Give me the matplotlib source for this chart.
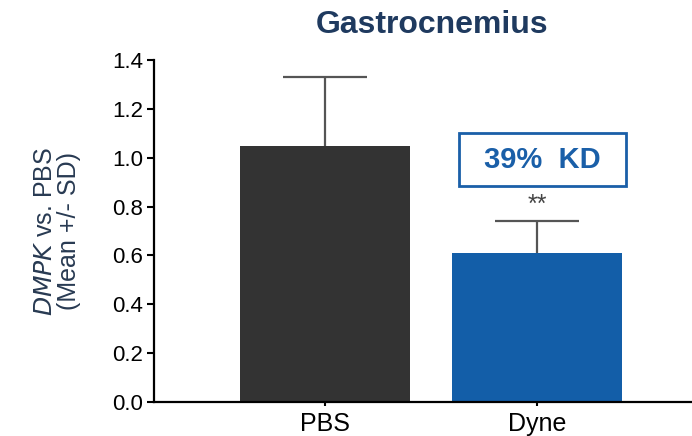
import matplotlib.pyplot as plt
from matplotlib.patches import Rectangle
import numpy as np

plt.rcParams['font.family'] = ['Liberation Sans', 'DejaVu Sans']

groups = ['PBS', 'Dyne']
means = [1.05, 0.61]
sds = [0.28, 0.13]
bar_colors = ['#333333', '#135ea8']
yticks = [0.0, 0.2, 0.4, 0.6, 0.8, 1.0, 1.2, 1.4]

fig = plt.figure(figsize=(6.92, 4.36), dpi=100)
ax = fig.add_axes([154 / 692, 1 - 402 / 436, 1 - 154 / 692, 342 / 436])

x = np.arange(len(groups))
tops = np.array(means) + np.array(sds)
# upward-only error bars, behind the bars
ax.vlines(x, means, tops, color='#555555', linewidth=1.6, zorder=1)
ax.hlines(tops, x - 0.2, x + 0.2, color='#555555', linewidth=1.6, zorder=1)
ax.bar(x, means, width=0.8, color=bar_colors, zorder=2)

ax.set_xlim(-0.807, 1.731)
ax.set_ylim(0, 1.4)
ax.set_yticks(yticks)
ax.set_yticklabels(['%.1f' % v for v in yticks])
ax.set_xticks(x)
ax.set_xticklabels(groups)

for s in ['top', 'right']:
    ax.spines[s].set_visible(False)
for s in ['left', 'bottom']:
    ax.spines[s].set_linewidth(1.6)
    ax.spines[s].set_color('black')
ax.tick_params(axis='y', labelsize=16, length=5, width=1.5, pad=3)
ax.tick_params(axis='x', labelsize=18, length=3, width=1.5, pad=4)

ax.set_ylabel('$\\mathit{DMPK}$ vs. PBS\n(Mean +/- SD)', fontsize=18,
              color='#283a52', linespacing=1.0)
ax.yaxis.set_label_coords(-0.135, 0.5)

# significance stars
ax.text(x[1], 0.805, '**', ha='center', va='center',
        fontsize=18, color='#444444')

# knockdown box
ax.add_patch(Rectangle((0.632, 0.885), 0.788, 0.217, facecolor='white',
                       edgecolor='#1a5fa8', linewidth=2, zorder=3))
ax.text(1.025, 0.99, '39%  KD', ha='center', va='center', fontsize=21,
        fontweight='bold', color='#1a5fa8', zorder=4)

fig.text(432 / 692, 1 - 25 / 436, 'Gastrocnemius', ha='center', va='center',
         fontsize=23, fontweight='bold', color='#1f3a5f')

fig.savefig('out.png', dpi=100)
